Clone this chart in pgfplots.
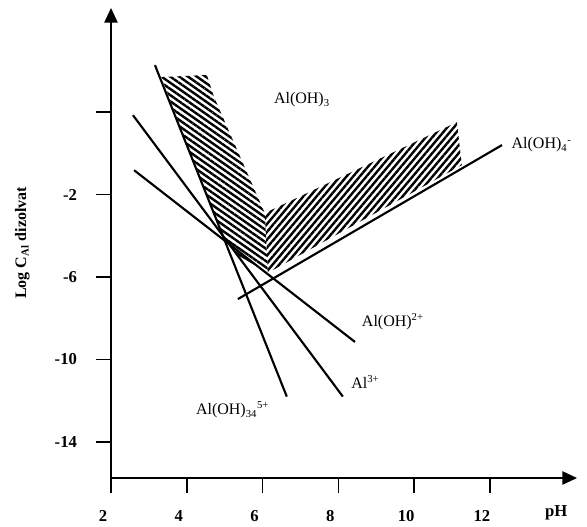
\documentclass[border=0pt]{standalone}
\usepackage{pgfplots}
\pgfplotsset{compat=1.18}
\usepackage{fontspec}
\setmainfont{Liberation Serif}
\usetikzlibrary{arrows.meta,patterns.meta}

\begin{document}
\begin{tikzpicture}
\begin{axis}[
    scale only axis,
    width=349.5pt, height=352.5pt,
    xmin=2, xmax=14.3, ymin=-15.75, ymax=7.05,
    axis lines=left,
    axis line style={line width=1.2pt, -{Triangle[length=11pt,width=10pt]}},
    xtick={2,4,...,12},
    ytick={-14,-10,-6,-2,2},
    yticklabels={-14,-10,-6,-2,},
    xtick pos=bottom, ytick pos=left,
    xtick align=outside, ytick align=outside,
    major tick length=11pt,
    every tick/.style={line width=1.2pt, black},
    ticklabel style={font=\bfseries\fontsize{12.5}{14}\selectfont},
    xticklabel style={xshift=-6pt, yshift=-10pt},
    yticklabel style={xshift=-11pt},
    /pgf/number format/assume math mode=true,
    xlabel={\textbf{pH}},
    xlabel style={at={(axis cs:13.75,-15.75)}, anchor=center, yshift=-26pt,
                  font=\fontsize{12.5}{14}\selectfont},
    ylabel={\textbf{Log C\textsubscript{Al} dizolvat}},
    ylabel style={at={(axis description cs:-0.19,0.5)}, anchor=center,
                  font=\fontsize{12}{14}\selectfont},
    clip=false,
]
% hatched zone, left part
\addplot[draw=none, pattern={Lines[angle=-35,distance=3.8pt,line width=1.8pt]}]
    coordinates {(3.33,3.70) (4.53,3.80) (4.72,2.73) (6.06,-2.90)
                 (6.14,-5.80) (5.40,-5.00) (4.95,-4.10)} -- cycle;
% hatched zone, right part
\addplot[draw=none, pattern={Lines[angle=50,distance=3.8pt,line width=1.8pt]}]
    coordinates {(6.06,-2.90) (11.13,1.51) (11.26,-0.57) (6.14,-5.80)} -- cycle;

% species lines
\addplot[black, no marks, line width=1.6pt] coordinates {(3.16,4.28) (6.64,-11.8)};
\addplot[black, no marks, line width=1.6pt] coordinates {(2.58,1.85) (8.12,-11.8)};
\addplot[black, no marks, line width=1.6pt] coordinates {(2.61,-0.82) (8.44,-9.15)};
\addplot[black, no marks, line width=1.6pt] coordinates {(5.35,-7.07) (12.32,0.40)};

\node[font=\fontsize{12}{14}\selectfont] at (axis cs:7.04,2.58) {Al(OH)\textsubscript{3}};
\node[anchor=west, font=\fontsize{12}{14}\selectfont] at (axis cs:12.45,0.40) {Al(OH)\textsubscript{4}\textsuperscript{-}};
\node[anchor=west, font=\fontsize{12}{14}\selectfont] at (axis cs:8.50,-8.17) {Al(OH)\textsuperscript{2+}};
\node[anchor=west, font=\fontsize{12}{14}\selectfont] at (axis cs:8.22,-11.10) {Al\textsuperscript{3+}};
\node[anchor=west, font=\fontsize{12}{14}\selectfont] at (axis cs:4.12,-12.45) {Al(OH)\textsubscript{34}\textsuperscript{5+}};
\end{axis}
\path ([xshift=-83.25pt,yshift=-36pt]current axis.south west)
    rectangle ([xshift=7.5pt,yshift=6pt]current axis.north east);
\end{tikzpicture}
\end{document}
